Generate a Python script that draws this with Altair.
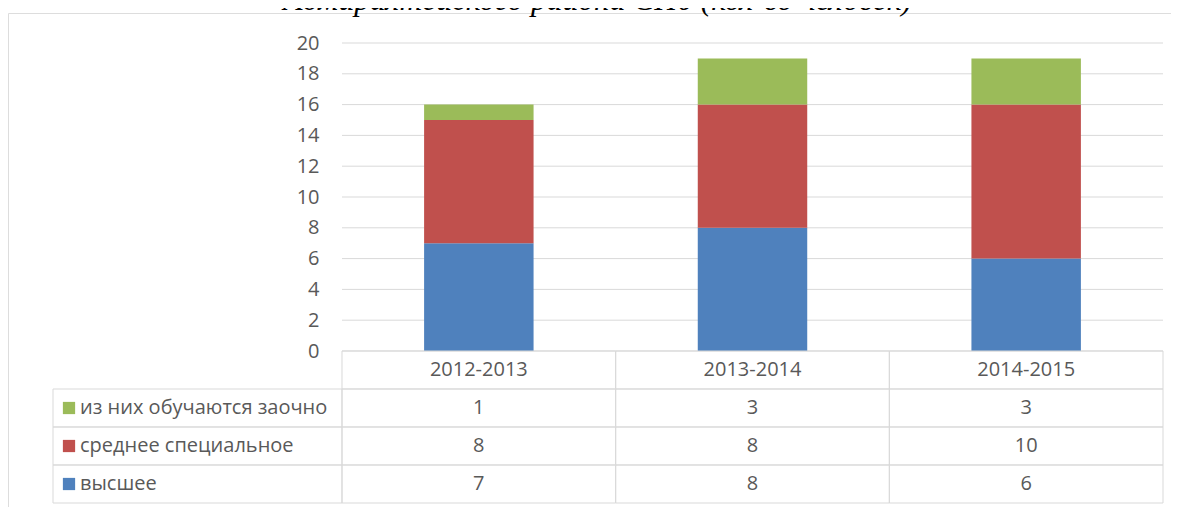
import altair as alt
import pandas as pd

# ---- data ----
years = ["2012-2013", "2013-2014", "2014-2015"]
series = ["высшее", "среднее специальное", "из них обучаются заочно"]
vysshee = [7, 8, 6]
srednee = [8, 8, 10]
zaochno = [1, 3, 3]
colors = ["#4F81BD", "#C0504D", "#9BBB59"]
y_ticks = [0, 2, 4, 6, 8, 10, 12, 14, 16, 18, 20]
title_text = "Адмиралтейского района СПб (кол-во человек)"

rows = []
for si, (name, vals) in enumerate(zip(series, [vysshee, srednee, zaochno])):
    for yr, v in zip(years, vals):
        rows.append({"year": yr, "series": name, "value": v, "order": si})
df = pd.DataFrame(rows)

row_order = ["header"] + series[::-1]
header_df = pd.DataFrame({"year": years, "row": ["header"] * len(years)})
cells = [{"year": yr, "row": r} for r in row_order for yr in years]
cells_df = pd.DataFrame(cells)
labels_df = pd.DataFrame({"row": series[::-1], "series": series[::-1]})
vals_df = df.rename(columns={"series": "row"})
grid_df = pd.DataFrame({"t": y_ticks})

# ---- layout (pixels inside the frame) ----
W, H = 1163, 494
PX0, PX1 = 334, 1155
PY0, PY1 = 338, 30
TY0, TY1 = 338, 490
GRAY = "#D9D9D9"
TXT = "#595959"
FONT = "Open Sans"
FS = 20

xbar = alt.Scale(domain=years, range=[PX0, PX1], paddingInner=0.6, paddingOuter=0.3)
ybar = alt.Scale(domain=[0, 20], range=[PY0, PY1], nice=False, zero=True)
xtab = alt.Scale(domain=years, range=[PX0, PX1], paddingInner=0, paddingOuter=0)
ytab = alt.Scale(domain=row_order, range=[TY0, TY1], paddingInner=0, paddingOuter=0)
cscale = alt.Scale(domain=series, range=colors)

grid = alt.Chart(grid_df).mark_rule(color=GRAY, strokeWidth=1).encode(
    y=alt.Y("t:Q", scale=ybar, axis=None),
    x=alt.value(PX0), x2=alt.value(PX1),
)

bars = alt.Chart(df).mark_bar().encode(
    x=alt.X("year:N", scale=xbar, axis=None),
    y=alt.Y("value:Q", stack="zero", scale=ybar,
            axis=alt.Axis(values=y_ticks, domain=False, ticks=False, grid=False,
                          labelFont=FONT, labelFontSize=FS, labelColor=TXT,
                          labelPadding=0, offset=-311, title=None)),
    color=alt.Color("series:N", scale=cscale, legend=None),
    order=alt.Order("order:Q"),
)

table_cells = alt.Chart(cells_df).mark_rect(fillOpacity=0, stroke=GRAY, strokeWidth=1).encode(
    x=alt.X("year:N", scale=xtab, axis=None),
    y=alt.Y("row:N", scale=ytab, axis=None),
)

label_cells = alt.Chart(labels_df).mark_rect(fillOpacity=0, stroke=GRAY, strokeWidth=1).encode(
    x=alt.value(45), x2=alt.value(PX0),
    y=alt.Y("row:N", scale=ytab, axis=None),
)

header_text = alt.Chart(header_df).mark_text(font=FONT, fontSize=FS, color=TXT).encode(
    x=alt.X("year:N", scale=xtab, axis=None),
    y=alt.Y("row:N", scale=ytab, axis=None),
    text="year:N",
)

val_text = alt.Chart(vals_df).mark_text(font=FONT, fontSize=FS, color=TXT).encode(
    x=alt.X("year:N", scale=xtab, axis=None),
    y=alt.Y("row:N", scale=ytab, axis=None),
    text="value:Q",
)

squares = alt.Chart(labels_df).mark_point(shape="square", filled=True, opacity=1, size=150).encode(
    x=alt.value(61),
    y=alt.Y("row:N", scale=ytab, axis=None),
    color=alt.Color("series:N", scale=cscale, legend=None),
)

label_text = alt.Chart(labels_df).mark_text(font=FONT, fontSize=FS, color=TXT, align="left").encode(
    x=alt.value(72),
    y=alt.Y("row:N", scale=ytab, axis=None),
    text="row:N",
)

chart = alt.layer(
    grid, bars, table_cells, label_cells, header_text, val_text, squares, label_text
).resolve_scale(x="independent", y="independent").properties(
    width=W, height=H,
    autosize=alt.AutoSizeParams(type="none"),
    padding={"left": 0, "top": 5, "right": 0, "bottom": 0},
    title=alt.TitleParams(title_text, font="Liberation Serif", fontStyle="italic",
                          fontSize=31.5, fontWeight="normal", color="#000000",
                          anchor="middle", baseline="alphabetic", offset=-28, dx=8),
).configure_view(stroke=GRAY, strokeWidth=1).configure(background="white")

chart.save("out.html", embed_options={"renderer": "svg", "actions": False})
